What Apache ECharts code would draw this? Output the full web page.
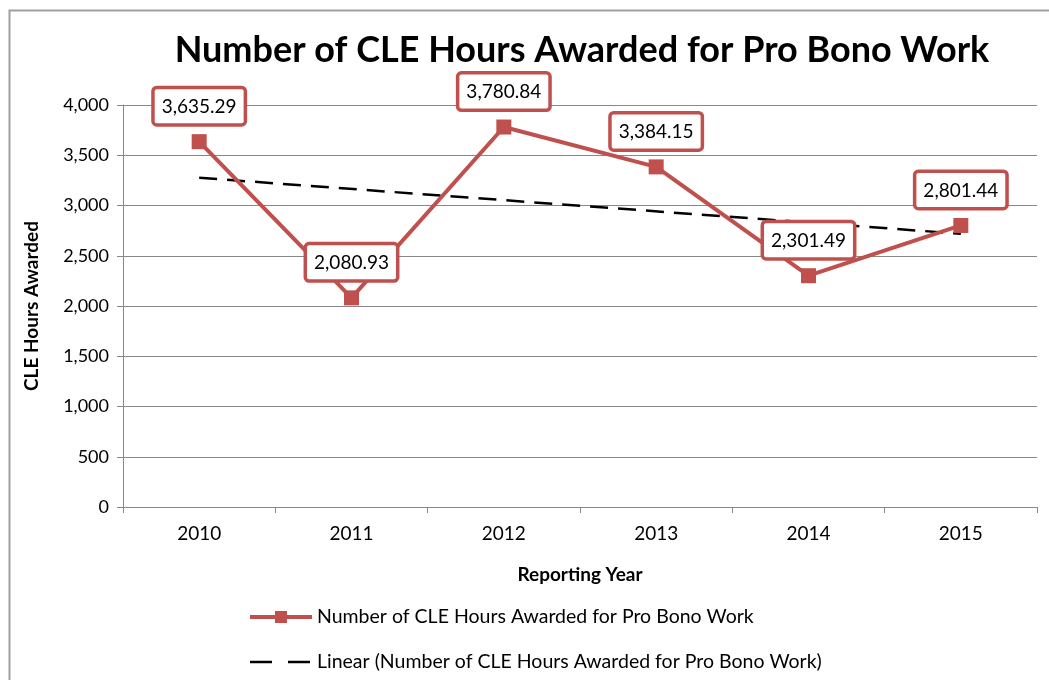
<!DOCTYPE html>
<html>
<head>
<meta charset="utf-8">
<script src="https://cdn.jsdelivr.net/npm/echarts@6/dist/echarts.min.js"></script>
<style>
  html, body { margin: 0; padding: 0; background: #fff; }
  #chart { width: 1049px; height: 680px; }
</style>
</head>
<body>
<div id="chart"></div>
<script>
var years = ['2010', '2011', '2012', '2013', '2014', '2015'];
var hours = [3635.29, 2080.93, 3780.84, 3384.15, 2301.49, 2801.44];
// linear trendline end points
var trendYears = ['2010', '2015'];
var trendValues = [3276, 2719];
var yTicks = [0, 500, 1000, 1500, 2000, 2500, 3000, 3500, 4000];

var seriesName = 'Number of CLE Hours Awarded for Pro Bono Work';
var trendName = 'Linear (Number of CLE Hours Awarded for Pro Bono Work)';

var font = 'Lato, "Open Sans", sans-serif';
var red = '#c0504d';

var myChart = echarts.init(document.getElementById('chart'));

var option = {
  backgroundColor: '#fff',
  animation: false,
  textStyle: { fontFamily: font },
  graphic: [{
    type: 'rect',
    left: 7, top: 8,
    shape: { width: 1100, height: 700 },
    style: { fill: 'none', stroke: '#a0a0a0', lineWidth: 2 },
    z: -1
  }],
  title: {
    text: 'Number of CLE Hours Awarded for Pro Bono Work',
    left: 577, top: 27, textAlign: 'center',
    textStyle: { fontFamily: font, fontSize: 36, fontWeight: 'bold', color: '#000' }
  },
  grid: { left: 123, right: 12, top: 105, bottom: 173 },
  legend: {
    orient: 'vertical',
    left: 243, top: 602,
    itemGap: 25,
    itemWidth: 62, itemHeight: 15,
    textStyle: { fontFamily: font, fontSize: 19.5, color: '#000' },
    data: [
      { name: seriesName, lineStyle: { width: 4 } },
      { name: trendName, itemStyle: { opacity: 0 }, lineStyle: { width: 2.5, type: [22, 16] } }
    ]
  },
  xAxis: {
    type: 'category',
    data: years,
    name: 'Reporting Year',
    nameLocation: 'middle',
    nameGap: 58,
    nameTextStyle: { fontFamily: font, fontSize: 19, fontWeight: 'bold', color: '#000' },
    axisLine: { lineStyle: { color: '#888', width: 1 } },
    axisTick: { show: true, length: 6, lineStyle: { color: '#888' } },
    axisLabel: { fontFamily: font, fontSize: 19, color: '#000', margin: 17 }
  },
  yAxis: {
    type: 'value',
    min: 0, max: 4000, interval: 500,
    name: 'CLE Hours Awarded',
    nameLocation: 'middle',
    nameGap: 82,
    nameTextStyle: { fontFamily: font, fontSize: 19, fontWeight: 'bold', color: '#000' },
    axisLine: { show: true, lineStyle: { color: '#888', width: 1 } },
    axisTick: { show: true, length: 6, lineStyle: { color: '#888' } },
    axisLabel: {
      fontFamily: font, fontSize: 18, color: '#000', margin: 14,
      formatter: function (v) { return yTicks.indexOf(v) >= 0 ? v.toLocaleString('en-US') : ''; }
    },
    splitLine: { lineStyle: { color: '#888', width: 1 } }
  },
  series: [
    {
      name: seriesName,
      type: 'line',
      data: hours,
      color: red,
      lineStyle: { color: red, width: 4 },
      symbol: 'rect',
      symbolSize: 15,
      itemStyle: { color: red },
      label: {
        show: true,
        position: 'top',
        distance: 11,
        fontFamily: font,
        fontSize: 19,
        color: '#000',
        backgroundColor: '#fff',
        borderColor: red,
        borderWidth: 3.5,
        borderRadius: 2,
        padding: [8, 7, 7, 7],
        formatter: function (p) {
          return p.value.toLocaleString('en-US', { minimumFractionDigits: 2, maximumFractionDigits: 2 });
        }
      },
      z: 3
    },
    {
      name: trendName,
      type: 'line',
      data: [[trendYears[0], trendValues[0]], [trendYears[1], trendValues[1]]],
      color: '#000',
      symbol: 'none',
      lineStyle: { color: '#000', width: 2.5, type: [18, 10] },
      z: 2
    }
  ]
};

myChart.setOption(option);
</script>
</body>
</html>
